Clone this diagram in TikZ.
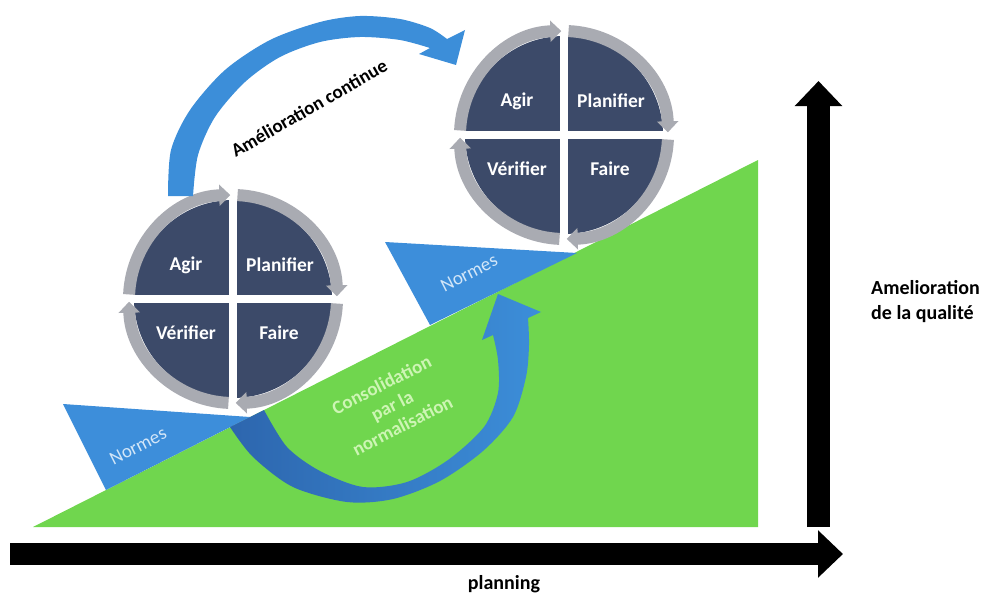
\documentclass[tikz,border=0pt]{standalone}
\usepackage{fontspec}
\setmainfont{Carlito}
\usetikzlibrary{arrows.meta}
\definecolor{grn}{HTML}{70D64E}
\definecolor{wedgeblue}{HTML}{3D8EDA}
\definecolor{quaddark}{HTML}{3C4A69}
\definecolor{ringgray}{HTML}{A9ABB2}
\definecolor{blueA}{HTML}{3C8ED9}
\definecolor{blueD}{HTML}{2D66AE}
\definecolor{normtxt}{HTML}{D2E6F8}
\definecolor{constxt}{HTML}{CDF5B4}
\newcommand{\pdcacycle}[3]{%
  \begin{scope}[shift={(#2,#3)}]
    \coordinate (#1) at (0,0);
    \fill[quaddark] (0,0) circle[radius=99];
    \fill[white] (-4,-101) rectangle (4,101);
    \fill[white] (-101,-4) rectangle (101,4);
    \draw[ringarc] (182.5:104) arc[start angle=182.5, end angle=268.5, radius=104];
    \draw[ringarc] (272.5:104) arc[start angle=272.5, end angle=358.5, radius=104];
    \draw[ringarc] (2.5:104) arc[start angle=2.5, end angle=88.5, radius=104];
    \draw[ringarc] (92.5:104) arc[start angle=92.5, end angle=178.5, radius=104];
    \node[quad] (#1a) at (-47,-34) {Agir};
    \node[quad] (#1p) at (47,-34) {Planifier};
    \node[quad] (#1v) at (-47,34) {Vérifier};
    \node[quad] (#1f) at (46,34) {Faire};
  \end{scope}}
\begin{document}
\begin{tikzpicture}[x=1pt,y=-1pt,
  quad/.style={text=white, font=\bfseries\fontsize{19.5}{23}\selectfont, inner sep=0pt},
  ringarc/.style={draw=ringgray, line width=12pt, -{Triangle[width=21pt,length=11pt]}},
  normes/.style={text=normtxt, font=\fontsize{19}{23}\selectfont, inner sep=0pt, rotate=27},
  axisarrow/.style={draw=black, line width=22pt, -{Triangle[width=46pt,length=25pt]}},
  axislabel/.style={text=black, font=\bfseries\fontsize{20}{25}\selectfont, inner sep=0pt}]
\useasboundingbox (0,0) rectangle (988,594);
% green slope
\fill[grn] (33,527) -- (758,160) -- (758,527) -- cycle;
% Normes wedges
\fill[wedgeblue] (63,404) -- (250,417) -- (106,490) -- cycle;
\fill[wedgeblue] (385,242) -- (577,253) -- (430,325) -- cycle;
\node[normes] (n1) at (138,446) {Normes};
\node[normes] (n2) at (469,273) {Normes};
% consolidation arrow
\shade[left color=blueD, middle color=blueD, right color=blueA]
  plot[smooth] coordinates {(230,427) (253,457) (293,487) (347,502) (393,499) (440,481) (483,451) (513,417) (526,377) (529,345) (528,318)}
  -- (541,312) -- (498,294) -- (482,340)
  -- plot[smooth] coordinates {(493,335) (498,360) (498,393) (484,427) (448,460) (407,482) (363,487) (320,471) (287,447) (264,410)}
  -- cycle;
\node[text=constxt, font=\bfseries\fontsize{19}{23}\selectfont, align=center, rotate=27, inner sep=0pt] (cons) at (392,405) {Consolidation\\par la\\normalisation};
% PDCA cycles
\pdcacycle{c1}{233}{299}
\pdcacycle{c2}{564}{135}
% amelioration continue arrow
\fill[blueA]
  plot[smooth] coordinates {(168,196) (171,150) (190,110) (225,70) (270,40) (320,22) (360,16) (400,19) (430,28) (447,39)}
  -- (465,30) -- (456,65) -- (419,54)
  -- plot[smooth] coordinates {(430,48) (400,40) (360,37) (320,42) (280,57) (245,82) (215,117) (198,155) (193,196)}
  -- cycle;
\node[text=black, font=\bfseries\fontsize{19}{23}\selectfont, rotate=30, inner sep=0pt] (amc) at (309,108) {Amélioration continue};
% axes
\coordinate (hx0) at (10,554);
\coordinate (hx1) at (843,554);
\coordinate (vy0) at (818.5,527);
\coordinate (vy1) at (818.5,81);
\draw[axisarrow] (hx0) -- (hx1);
\draw[axisarrow, line width=23pt] (vy0) -- (vy1);
\node[axislabel, anchor=west, align=left] (ylab) at (871,302) {Amelioration\\de la qualité};
\node[axislabel] (xlab) at (504,584) {planning};
\end{tikzpicture}
\end{document}
